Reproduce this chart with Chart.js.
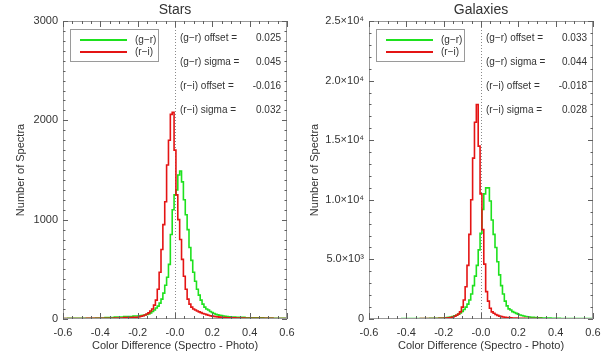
<!DOCTYPE html>
<html>
<head>
<meta charset="utf-8">
<script src="https://cdn.jsdelivr.net/npm/chart.js@4.4.0/dist/chart.umd.min.js"></script>
<style>
  body { margin: 0; background: #fff; }
  .panel { position: absolute; top: 0; width: 306px; height: 360px; }
</style>
</head>
<body>
<div class="panel" style="left:0"><canvas id="stars-chart" width="306" height="360"></canvas></div>
<div class="panel" style="left:306px"><canvas id="gal-chart" width="306" height="360"></canvas></div>
<script>
// bin centres (coarser in the flat tails)
const binX = [-0.6, -0.55, -0.5, -0.45, -0.4, -0.35, -0.3, -0.25,
	-0.2, -0.19, -0.18, -0.17, -0.16, -0.15, -0.14, -0.13, -0.12, -0.11,
	-0.1, -0.09, -0.08, -0.07, -0.06, -0.05, -0.04, -0.03, -0.02, -0.01,
	0, 0.01, 0.02, 0.03, 0.04, 0.05, 0.06, 0.07, 0.08, 0.09,
	0.1, 0.11, 0.12, 0.13, 0.14, 0.15, 0.16, 0.17, 0.18, 0.19,
	0.2, 0.21, 0.22, 0.23, 0.24, 0.25, 0.26, 0.27, 0.28, 0.29, 0.3,
	0.35, 0.4, 0.45, 0.5, 0.55, 0.6];

const starsGR = [5, 6, 7, 8, 10, 14, 20, 25,
	30, 32, 34, 36, 40, 45, 52, 62, 75, 90,
	110, 130, 160, 200, 260, 340, 420, 550, 850, 1100,
	1250, 1300, 1450, 1490, 1380, 1200, 1050, 900, 720, 590,
	470, 380, 300, 240, 190, 150, 120, 100, 90, 75,
	65, 55, 48, 42, 38, 34, 30, 27, 24, 22, 20,
	16, 13, 11, 9, 8, 7];
const starsRI = [4, 5, 5, 6, 7, 8, 10, 14,
	18, 22, 27, 33, 40, 50, 62, 80, 100, 140,
	190, 300, 470, 700, 950, 1180, 1550, 1800, 2060, 2080,
	1700, 1250, 1000, 800, 600, 430, 300, 200, 150, 120,
	100, 90, 80, 72, 64, 56, 50, 44, 38, 33,
	29, 26, 23, 21, 19, 17, 15, 14, 13, 12, 11,
	9, 8, 7, 6, 5, 5];

const galGR = [15, 18, 20, 24, 28, 35, 42, 55,
	85, 100, 120, 140, 170, 210, 260, 320, 400, 500,
	640, 800, 1000, 1250, 1600, 2100, 2800, 3600, 4500, 5800,
	7200, 9200, 10500, 11000, 11000, 9900, 8300, 7100, 6000, 4800,
	3700, 2800, 2100, 1500, 1100, 850, 750, 620, 540, 470,
	400, 340, 290, 250, 215, 190, 170, 150, 135, 120, 110,
	80, 60, 48, 40, 34, 30];
const galRI = [10, 12, 14, 17, 20, 25, 32, 40,
	60, 70, 85, 100, 130, 170, 230, 320, 420, 600,
	1000, 1600, 2700, 4500, 7100, 10000, 13500, 16500, 18000, 14500,
	10500, 7500, 4600, 2300, 1500, 900, 600, 480, 380, 300,
	240, 200, 170, 150, 130, 115, 100, 90, 80, 72,
	65, 60, 55, 50, 46, 42, 39, 36, 33, 31, 29,
	24, 20, 17, 14, 12, 10];

const xTickLabels = ['-0.6', '-0.4', '-0.2', '-0.0', '0.2', '0.4', '0.6'];
const starsYLabels = ['0', '1000', '2000', '3000'];
const galYLabels = ['0', '5.0×10³', '1.0×10⁴', '1.5×10⁴', '2.0×10⁴', '2.5×10⁴'];
const seriesNames = ['(g−r)', '(r−i)'];
const statNames = ['(g−r) offset =', '(g−r) sigma =', '(r−i) offset =', '(r−i) sigma ='];
const starsStats = ['0.025', '0.045', '-0.016', '0.032'];
const galStats = ['0.033', '0.044', '-0.018', '0.028'];

const GREEN = 'rgb(30,225,30)';
const RED = 'rgb(228,20,20)';
const FONT = '"Liberation Sans", "DejaVu Sans", sans-serif';

function toPoints(ys) {
	return ys.map((y, i) => ({x: binX[i], y: y}));
}

// IDL-style box: frame, inward ticks on all four sides, legend, labels
const idlPlugin = {
	id: 'idl',
	beforeDatasetsDraw(chart, args, opts) {
		const c = chart.ctx;
		const a = chart.chartArea;
		const x0 = chart.scales.x.getPixelForValue(0);
		c.save();
		c.strokeStyle = '#8a8a8a';
		c.lineWidth = 1;
		c.setLineDash([1, 2]);
		c.beginPath();
		c.moveTo(x0 + 0.5, a.top);
		c.lineTo(x0 + 0.5, a.bottom);
		c.stroke();
		c.restore();
	},
	afterDraw(chart, args, opts) {
		const c = chart.ctx;
		const a = chart.chartArea;
		const xs = chart.scales.x;
		const ys = chart.scales.y;
		c.save();
		c.strokeStyle = '#9a9a9a';
		c.lineWidth = 1;
		c.strokeRect(a.left + 0.5, a.top + 0.5, a.right - a.left - 1, a.bottom - a.top - 1);

		c.strokeStyle = '#606060';
		c.beginPath();
		for (let v = -0.6; v <= 0.6001; v += 0.05) {
			const px = Math.round(xs.getPixelForValue(v)) + 0.5;
			const major = Math.abs(v / 0.2 - Math.round(v / 0.2)) < 0.01;
			const len = major ? 6 : 3;
			c.moveTo(px, a.bottom); c.lineTo(px, a.bottom - len);
			c.moveTo(px, a.top); c.lineTo(px, a.top + len);
		}
		for (let v = 0; v <= opts.yMax + 1; v += opts.yMinor) {
			const py = Math.round(ys.getPixelForValue(v)) + 0.5;
			const major = v % opts.yStep === 0;
			const len = major ? 5 : 2.5;
			c.moveTo(a.left, py); c.lineTo(a.left + len, py);
			c.moveTo(a.right, py); c.lineTo(a.right - len, py);
		}
		c.stroke();

		// title and axis titles
		c.fillStyle = '#333';
		c.textAlign = 'center';
		c.textBaseline = 'middle';
		c.font = '14px ' + FONT;
		c.fillText(opts.title, (a.left + a.right) / 2, 10);
		c.font = '11px ' + FONT;
		c.fillText('Color Difference (Spectro - Photo)', (a.left + a.right) / 2, 346);
		c.save();
		c.translate(opts.yTitleX, (a.top + a.bottom) / 2);
		c.rotate(-Math.PI / 2);
		c.fillText('Number of Spectra', 0, 0);
		c.restore();

		// legend box
		c.strokeStyle = '#9a9a9a';
		c.strokeRect(a.left + 7.5, a.top + 8.5, 88, 32);
		c.lineWidth = 2;
		[GREEN, RED].forEach((col, i) => {
			const ly = a.top + 19 + i * 12;
			c.strokeStyle = col;
			c.beginPath();
			c.moveTo(a.left + 17, ly);
			c.lineTo(a.left + 64, ly);
			c.stroke();
			c.fillStyle = '#333';
			c.textAlign = 'left';
			c.font = '10px ' + FONT;
			c.fillText(seriesNames[i], a.left + 72, ly);
		});

		// statistics text
		c.font = '10px ' + FONT;
		statNames.forEach((name, i) => {
			const ty = a.top + 17 + i * 24;
			c.textAlign = 'left';
			c.fillText(name, a.left + 117, ty);
			c.textAlign = 'right';
			c.fillText(opts.stats[i], a.left + 218, ty);
		});
		c.restore();
	}
};

function makePanel(id, title, gr, ri, yMax, yStep, yMinor, yLabels, stats, yTitleX) {
	const ctx = document.getElementById(id).getContext('2d');
	return new Chart(ctx, {
		type: 'line',
		data: {
			datasets: [{
				label: seriesNames[1],
				data: toPoints(ri),
				borderColor: RED,
				borderWidth: 1.6,
				stepped: 'middle',
				pointRadius: 0,
				order: 0,
			}, {
				label: seriesNames[0],
				data: toPoints(gr),
				borderColor: GREEN,
				borderWidth: 1.6,
				stepped: 'middle',
				pointRadius: 0,
				order: 1,
			}],
		},
		options: {
			responsive: false,
			animation: false,
			devicePixelRatio: 1,
			layout: { padding: { left: 0, top: 21, right: 19, bottom: 0 } },
			plugins: {
				legend: { display: false },
				tooltip: { enabled: false },
				idl: { title: title, yMax: yMax, yStep: yStep, yMinor: yMinor, stats: stats, yTitleX: yTitleX },
			},
			scales: {
				x: {
					type: 'linear',
					min: -0.6,
					max: 0.6,
					grid: { display: false, drawTicks: false },
					border: { display: false },
					afterFit: (scale) => { scale.height = 41; },
					ticks: {
						stepSize: 0.2,
						padding: 7,
						maxRotation: 0,
						color: '#333',
						font: { family: FONT, size: 11 },
						callback: (v, i) => xTickLabels[i],
					},
				},
				y: {
					min: 0,
					max: yMax,
					grid: { display: false, drawTicks: false },
					border: { display: false },
					afterFit: (scale) => { scale.width = 63; },
					ticks: {
						stepSize: yStep,
						padding: 5,
						color: '#333',
						font: { family: FONT, size: 11 },
						callback: (v, i) => yLabels[i],
					},
				},
			},
		},
		plugins: [idlPlugin],
	});
}

makePanel('stars-chart', 'Stars', starsGR, starsRI, 3000, 1000, 100, starsYLabels, starsStats, 21);
makePanel('gal-chart', 'Galaxies', galGR, galRI, 25000, 5000, 1000, galYLabels, galStats, 9);
</script>
</body>
</html>
